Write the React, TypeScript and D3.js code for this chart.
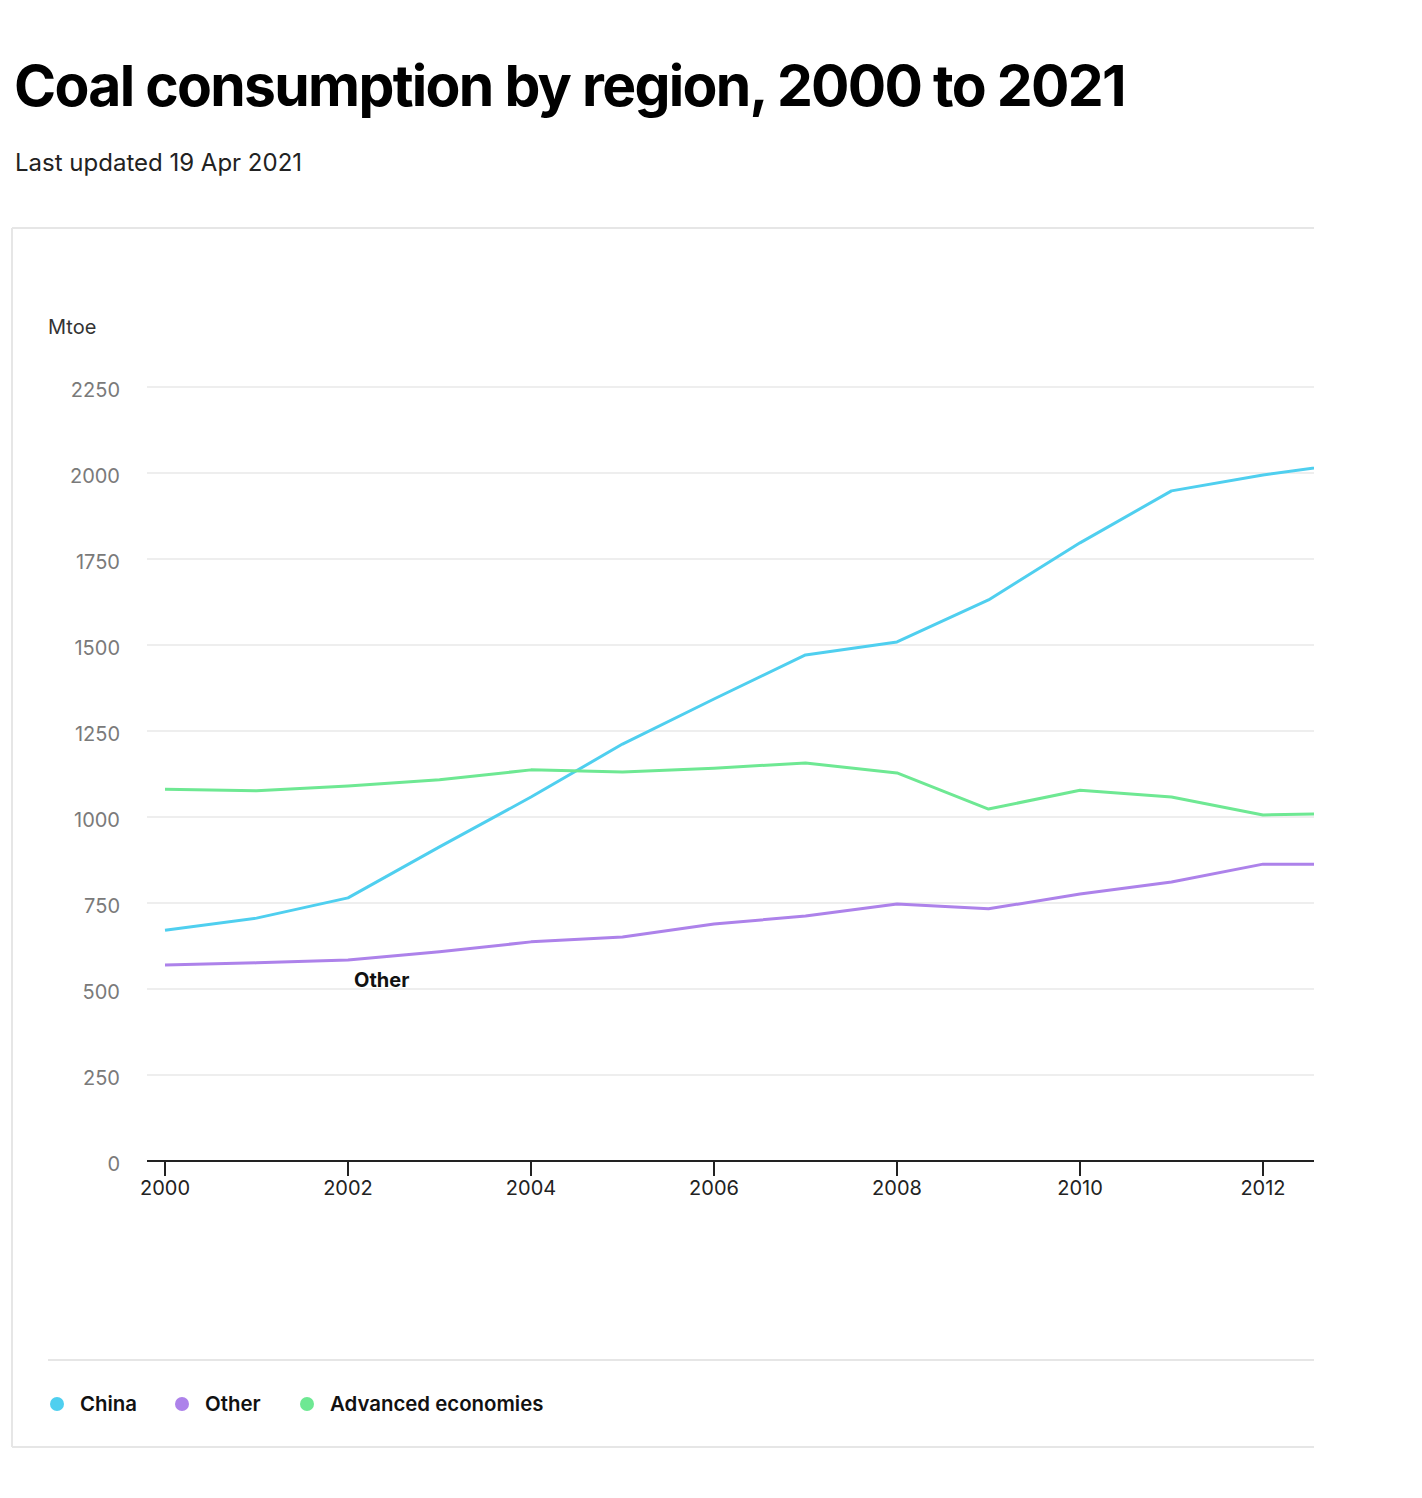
import React from "react";
import * as d3 from "d3";

const years = [2000, 2001, 2002, 2003, 2004, 2005, 2006, 2007, 2008, 2009, 2010, 2011, 2012, 2013];
const china = [671, 706, 765, 913, 1058, 1212, 1343, 1471, 1509, 1631, 1797, 1948, 1994, 2031];
const other = [570, 576, 584, 608, 637, 651, 689, 712, 747, 733, 776, 811, 863, 863];
const advanced = [1081, 1076, 1090, 1108, 1137, 1131, 1142, 1157, 1128, 1023, 1078, 1058, 1006, 1011];
const yTicks = [0, 250, 500, 750, 1000, 1250, 1500, 1750, 2000, 2250];
const xTicks = [2000, 2002, 2004, 2006, 2008, 2010, 2012];

const seriesList = [
  { name: "China", values: china, color: "#4fcfef" },
  { name: "Other", values: other, color: "#ad82ea" },
  { name: "Advanced economies", values: advanced, color: "#6ee893" },
];

const W = 1422;
const H = 1498;
const plotLeft = 147;
const plotRight = 1314;
const font = "Inter, 'Noto Sans', sans-serif";

export default function App() {
  const x = d3.scaleLinear().domain([2000, 2012]).range([165, 1263]);
  const y = d3.scaleLinear().domain([0, 2250]).range([1161, 387]);

  const line = d3
    .line<number>()
    .x((_, i) => x(years[i]))
    .y((d) => y(d));

  return (
    <svg
      width={W}
      height={H}
      style={{ position: "absolute", left: 0, top: 0, background: "#fff" }}
      fontFamily={font}
    >
      <defs>
        <clipPath id="plot-clip">
          <rect x={plotLeft} y={300} width={plotRight - plotLeft} height={900} />
        </clipPath>
      </defs>

      {/* header */}
      <text x={14} y={106} fontSize={57} fontWeight={700} letterSpacing={-1.7} fill="#000">
        Coal consumption by region, 2000 to 2021
      </text>
      <text x={15} y={171} fontSize={24} fill="#222">
        Last updated 19 Apr 2021
      </text>

      {/* frame (right side is cut) */}
      <g stroke="#e6e6e6" strokeWidth={2}>
        <line x1={12} x2={plotRight} y1={228} y2={228} />
        <line x1={12} x2={12} y1={228} y2={1447} />
        <line x1={12} x2={plotRight} y1={1447} y2={1447} />
      </g>

      <text x={48} y={334} fontSize={20} fill="#333">
        Mtoe
      </text>

      {/* grid + y labels */}
      {yTicks.map((t) => (
        <g key={t}>
          {t > 0 && (
            <line x1={plotLeft} x2={plotRight} y1={y(t)} y2={y(t)} stroke="#e8e8e8" strokeWidth={1.5} />
          )}
          <text x={120} y={y(t) + 10} fontSize={20} fill="#7a7a7a" textAnchor="end">
            {t}
          </text>
        </g>
      ))}

      {/* x axis */}
      <line x1={plotLeft} x2={plotRight} y1={y(0)} y2={y(0)} stroke="#222" strokeWidth={2} />
      {xTicks.map((t) => (
        <g key={t}>
          <line x1={x(t)} x2={x(t)} y1={y(0)} y2={y(0) + 15} stroke="#222" strokeWidth={2} />
          <text x={x(t)} y={1195} fontSize={20} fill="#222" textAnchor="middle">
            {t}
          </text>
        </g>
      ))}

      {/* series */}
      <g clipPath="url(#plot-clip)">
        {seriesList.map((s) => (
          <path
            key={s.name}
            d={line(s.values) ?? ""}
            fill="none"
            stroke={s.color}
            strokeWidth={3}
            strokeLinejoin="round"
          />
        ))}
      </g>

      <text x={354} y={987} fontSize={20} fontWeight={700} fill="#111">
        Other
      </text>

      {/* legend */}
      <line x1={48} x2={plotRight} y1={1360} y2={1360} stroke="#e6e6e6" strokeWidth={2} />
      {seriesList.map((s, i) => (
        <g key={s.name} transform={`translate(${57 + i * 125},1404)`}>
          <circle r={7} fill={s.color} />
          <text x={23} y={7} fontSize={20.4} fontWeight={600} fill="#111">
            {s.name}
          </text>
        </g>
      ))}
    </svg>
  );
}
